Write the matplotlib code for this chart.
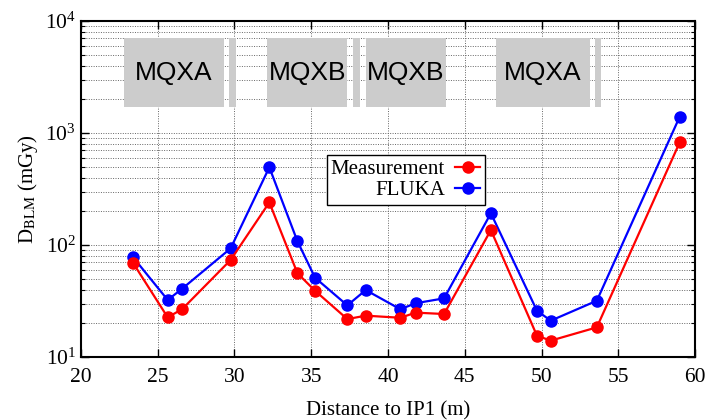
import matplotlib
matplotlib.use('Agg')
import matplotlib.pyplot as plt
from matplotlib.patches import Rectangle
from matplotlib.ticker import LogLocator, NullFormatter

plt.rcParams['font.family'] = ['Liberation Serif', 'DejaVu Serif']
plt.rcParams['mathtext.fontset'] = 'stix'

# positions of the BLMs (m) and the doses (mGy)
distance = [23.4, 25.65, 26.6, 29.75, 32.27, 34.1, 35.25, 37.35, 38.55,
            40.8, 41.8, 43.65, 46.7, 49.7, 50.6, 53.6, 59.0]
measurement = [69, 22.6, 26.8, 73.5, 240, 56, 39, 21.8, 23.4,
               22.4, 24.9, 24.2, 136, 15.5, 14.0, 18.4, 826]
fluka = [77.6, 32.3, 40.8, 93.3, 494, 108, 51, 28.9, 39.6,
         26.7, 30.2, 33.4, 192, 25.9, 21.1, 31.8, 1400]

# magnets drawn as gray boxes: (start, end, label)
magnet_start = [22.8, 29.65, 32.15, 37.75, 38.55, 47.05, 53.5]
magnet_end = [29.3, 30.1, 37.35, 38.15, 43.8, 53.15, 53.9]
magnet_label = ['MQXA', '', 'MQXB', '', 'MQXB', 'MQXA', '']

fig = plt.figure(figsize=(7.1, 4.2), dpi=100)
ax = fig.add_axes([0.114, 0.15, 0.865, 0.80])

for x0, x1, name in zip(magnet_start, magnet_end, magnet_label):
    ax.add_patch(Rectangle((x0, 1700), x1 - x0, 7000 - 1700,
                           facecolor='#cccccc', edgecolor='none', zorder=1))
    if name:
        ax.text((x0 + x1) / 2, 3450, name, ha='center', va='center',
                fontsize=19, family=['Liberation Sans', 'DejaVu Sans'], zorder=2)

ax.plot(distance, measurement, '-o', color='red', lw=1.6, ms=8,
        label='Measurement', zorder=4)
ax.plot(distance, fluka, '-o', color='blue', lw=1.6, ms=8,
        label='FLUKA', zorder=3)

ax.set_yscale('log')
ax.set_xlim(20, 60)
ax.set_ylim(10, 1e4)
ax.set_xticks(range(20, 61, 5))
ax.yaxis.set_minor_locator(LogLocator(base=10, subs=range(2, 10)))
ax.yaxis.set_minor_formatter(NullFormatter())

ax.grid(True, which='major', axis='both', linestyle=(0, (1, 1.5)), color='#666666', lw=0.7, zorder=0)
ax.grid(True, which='minor', axis='y', linestyle=(0, (1, 1.5)), color='#666666', lw=0.7, zorder=0)
ax.set_axisbelow(True)

ax.tick_params(which='both', direction='in', top=True, right=True, labelsize=15.5)
ax.tick_params(which='major', length=6, width=1)
ax.tick_params(which='minor', length=3, width=0.8)
ax.tick_params(axis='x', pad=8)
for s in ax.spines.values():
    s.set_linewidth(1.5)

ax.set_xlabel('Distance to IP1 (m)', fontsize=15, labelpad=10)
ax.set_ylabel(r'D$_{\rm BLM}$ (mGy)', fontsize=15)

leg = ax.legend(loc='upper left', bbox_to_anchor=(0.40, 0.601), markerfirst=False,
                fontsize=15, frameon=True, fancybox=False, framealpha=1,
                edgecolor='black', handlelength=1.2, borderpad=0.2,
                labelspacing=0.1, handletextpad=0.5, borderaxespad=0)
leg.get_frame().set_linewidth(1.0)
for t in leg.get_texts():
    t.set_ha('right')
leg._legend_box.align = 'right'

fig.savefig('out.png', dpi=100)
